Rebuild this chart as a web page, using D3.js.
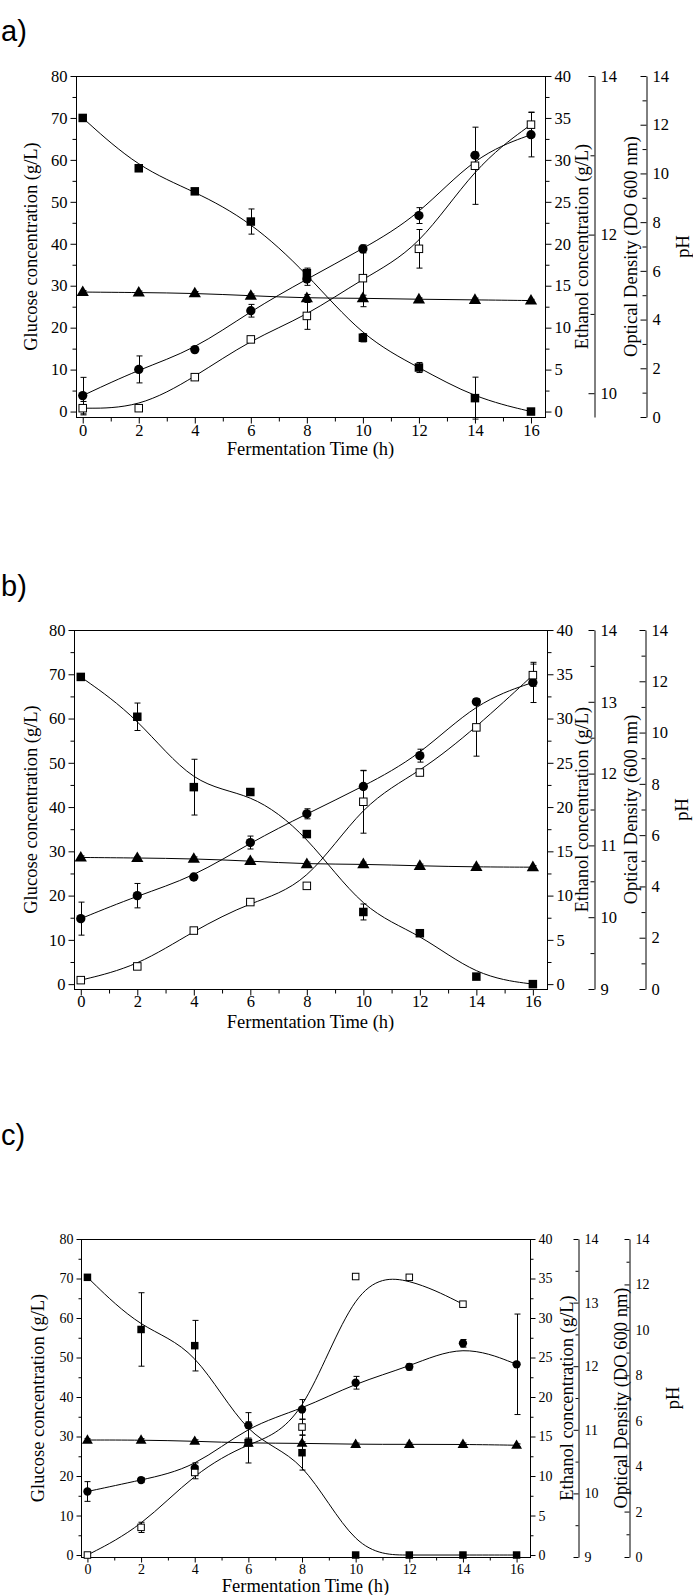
<!DOCTYPE html>
<html><head><meta charset="utf-8">
<script src="https://cdn.jsdelivr.net/npm/d3@7"></script>
<style>
body{margin:0;background:#fff;}
svg{display:block;}
text{font-family:"Liberation Serif","Times New Roman",serif;fill:#000;}
</style></head><body>
<svg id="chart" width="693" height="1595"></svg>
<script>
// ---------- shared ----------
const time = [0, 2, 4, 6, 8, 10, 12, 14, 16];
const xTicks = [0, 2, 4, 6, 8, 10, 12, 14, 16];
const glucoseTicks = [0, 10, 20, 30, 40, 50, 60, 70, 80];
const ethanolTicks = [0, 5, 10, 15, 20, 25, 30, 35, 40];
const phTicks = [0, 2, 4, 6, 8, 10, 12, 14];

// ---------- panel a ----------
const glucoseA = [70.0, 58.0, 52.5, 45.3, 33.0, 17.6, 10.5, 3.2, 0.0];
const glucoseErrA = [0, 0, 0, 3.0, 1.2, 1.0, 1.2, 5.0, 0];
const ethanolA = [0.4, 0.4, 4.1, 8.6, 11.4, 15.9, 19.4, 29.3, 34.2];
const ethanolErrA = [0.8, 0, 0, 0.3, 1.6, 3.4, 2.3, 4.6, 1.5];
const odA = [9.97, 10.30, 10.55, 11.04, 11.44, 11.82, 12.24, 13.00, 13.26];
const odErrA = [0.23, 0.17, 0, 0.08, 0.08, 0.05, 0.10, 0.04, 0.28];
const phA = [5.13, 5.11, 5.08, 4.98, 4.88, 4.88, 4.83, 4.81, 4.78];
const phErrA = [0.06, 0.06, 0.07, 0.07, 0.15, 0.12, 0.06, 0.07, 0.05];
const odTicksA = [10, 12, 14];

// ---------- panel b ----------
const glucoseB = [69.4, 60.4, 44.5, 43.4, 33.9, 16.3, 11.5, 1.7, 0.0];
const glucoseErrB = [0, 3.1, 6.3, 0, 0, 1.8, 0, 0, 0];
const ethanolB = [0.45, 2.0, 6.05, 9.27, 11.1, 20.6, 23.9, 29.0, 34.9];
const ethanolErrB = [0, 0.2, 0, 0, 0, 3.55, 0, 3.25, 1.25];
const odB = [9.98, 10.30, 10.56, 11.04, 11.44, 11.82, 12.25, 13.00, 13.27];
const odErrB = [0.23, 0.17, 0, 0.09, 0.07, 0.22, 0.09, 0.04, 0.28];
const phB = [5.13, 5.11, 5.08, 4.99, 4.87, 4.87, 4.80, 4.76, 4.75];
const phErrB = [0.06, 0.06, 0.07, 0.07, 0.08, 0.08, 0.07, 0.07, 0.06];
const odTicksB = [9, 10, 11, 12, 13, 14];

// ---------- panel c ----------
const glucoseC = [70.3, 57.1, 53.0, 28.5, 25.9, 0.0, 0.0, 0.0, 0.0];
const glucoseErrC = [0, 9.3, 6.4, 5.2, 4.4, 0, 0, 0, 0];
const ethanolC = [0.0, 3.5, 10.45, 14.2, 16.2, 35.25, 35.15, 31.75];
const ethanolErrC = [0, 0.65, 0.8, 0, 1.0, 0, 0, 0];
const odC = [10.03, 10.21, 10.40, 11.07, 11.32, 11.74, 11.99, 12.36, 12.03];
const odErrC = [0.155, 0.04, 0.08, 0.2, 0.155, 0.10, 0.05, 0.06, 0.79];
const phC = [5.15, 5.15, 5.10, 5.01, 5.01, 4.96, 4.96, 4.96, 4.92];
const phErrC = [0.06, 0.06, 0.06, 0.06, 0.06, 0.06, 0.06, 0.06, 0.06];
const odTicksC = [9, 10, 11, 12, 13, 14];

const svg = d3.select("#chart");

const panels = [
  {label: "a)", labelY: 41, top: 76, bottom: 417, left: 76, right: 545,
   gDom: [-1.3, 80], eDom: [-0.65, 40], odDom: [9.7, 14], odTicks: odTicksA, odMinorStep: 1,
   odX: 594, phX: 646, tickFont: 16.5, titleFont: 18.5, tickLen: 6, xPad: 1, xTitleY: 455,
   gTitleX: 31, eTitleX: 582, odTitleX: 631, phTitleX: 683, mk: 8.5,
   odTitle: "Optical Density (DO 600 nm)",
   glucose: glucoseA, glucoseErr: glucoseErrA, ethanol: ethanolA, ethanolErr: ethanolErrA,
   od: odA, odErr: odErrA, ph: phA, phErr: phErrA},
  {label: "b)", labelY: 596, top: 630, bottom: 989, left: 74, right: 547,
   gDom: [-1.1, 80], eDom: [-0.55, 40], odDom: [9, 14], odTicks: odTicksB, odMinorStep: 0.5,
   odX: 594, phX: 645, tickFont: 16.5, titleFont: 18.5, tickLen: 6, xPad: 0, xTitleY: 1028,
   gTitleX: 31, eTitleX: 582, odTitleX: 631, phTitleX: 682, mk: 8.5,
   odTitle: "Optical Density (600 nm)",
   glucose: glucoseB, glucoseErr: glucoseErrB, ethanol: ethanolB, ethanolErr: ethanolErrB,
   od: odB, odErr: odErrB, ph: phB, phErr: phErrB},
  {label: "c)", labelY: 1145, top: 1239, bottom: 1557, left: 81, right: 530,
   gDom: [-0.5, 80], eDom: [-0.25, 40], odDom: [9, 14], odTicks: odTicksC, odMinorStep: 0.5,
   odX: 578, phX: 629, tickFont: 14, titleFont: 18.5, tickLen: 5, xPad: 2, xTitleY: 1592,
   gTitleX: 38, eTitleX: 567, odTitleX: 621, phTitleX: 673, mk: 7.5,
   odTitle: "Optical Density (DO 600 nm)",
   glucose: glucoseC, glucoseErr: glucoseErrC, ethanol: ethanolC, ethanolErr: ethanolErrC,
   od: odC, odErr: odErrC, ph: phC, phErr: phErrC}
];

function styleAxis(a, fs) {
  a.attr("font-family", null).attr("font-size", fs);
  a.selectAll("line,path").attr("stroke", "#000").attr("stroke-width", 1);
  a.selectAll("text").attr("fill", "#000");
}
function range(a, b, s) { const r = []; for (let v = a; v <= b + 1e-9; v += s) r.push(+v.toFixed(3)); return r; }
const fmt = d3.format("d");

panels.forEach(p => {
  const g = svg.append("g");
  const x = d3.scaleLinear().domain([-0.24, 16.5]).range([p.left, p.right]);
  const yG = d3.scaleLinear().domain(p.gDom).range([p.bottom, p.top]);
  const yE = d3.scaleLinear().domain(p.eDom).range([p.bottom, p.top]);
  const yO = d3.scaleLinear().domain(p.odDom).range([p.bottom, p.top]);
  const yP = d3.scaleLinear().domain([0, 14]).range([p.bottom, p.top]);
  const T = p.tickLen, t = Math.max(3, Math.round(T * 0.6));

  // panel letter
  g.append("text").attr("x", 1).attr("y", p.labelY)
    .style("font-family", "'Liberation Sans',Arial,sans-serif").attr("font-size", 29).text(p.label);

  // frame
  g.append("rect").attr("x", p.left + 0.5).attr("y", p.top + 0.5)
    .attr("width", p.right - p.left).attr("height", p.bottom - p.top)
    .attr("fill", "none").attr("stroke", "#000").attr("stroke-width", 1);

  // bottom axis
  const xa = g.append("g").attr("transform", `translate(0,${p.bottom + 0.5})`)
    .call(d3.axisBottom(x).tickValues(xTicks).tickSize(T).tickPadding(p.xPad).tickSizeOuter(0).tickFormat(fmt));
  xa.select(".domain").remove(); styleAxis(xa, p.tickFont);
  const xm = g.append("g").attr("transform", `translate(0,${p.bottom + 0.5})`)
    .call(d3.axisBottom(x).tickValues(range(1, 15, 2)).tickSize(t).tickFormat(() => ""));
  xm.select(".domain").remove(); styleAxis(xm, p.tickFont);

  // left glucose axis
  const ga = g.append("g").attr("transform", `translate(${p.left + 0.5},0)`)
    .call(d3.axisLeft(yG).tickValues(glucoseTicks).tickSize(T).tickPadding(3).tickSizeOuter(0).tickFormat(fmt));
  ga.select(".domain").remove(); styleAxis(ga, p.tickFont);
  const gm = g.append("g").attr("transform", `translate(${p.left + 0.5},0)`)
    .call(d3.axisLeft(yG).tickValues(range(5, 75, 10)).tickSize(t).tickFormat(() => ""));
  gm.select(".domain").remove(); styleAxis(gm, p.tickFont);

  // right ethanol axis
  const ea = g.append("g").attr("transform", `translate(${p.right + 0.5},0)`)
    .call(d3.axisRight(yE).tickValues(ethanolTicks).tickSize(T).tickPadding(3).tickSizeOuter(0).tickFormat(fmt));
  ea.select(".domain").remove(); styleAxis(ea, p.tickFont);
  const em = g.append("g").attr("transform", `translate(${p.right + 0.5},0)`)
    .call(d3.axisRight(yE).tickValues(range(2.5, 37.5, 5)).tickSize(t).tickFormat(() => ""));
  em.select(".domain").remove(); styleAxis(em, p.tickFont);

  // OD axis (ticks to the left, labels to the right)
  const oa = g.append("g").attr("transform", `translate(${p.odX + 0.5},0)`)
    .call(d3.axisRight(yO).tickValues(p.odTicks).tickSizeInner(-T).tickSizeOuter(0).tickPadding(6).tickFormat(fmt));
  styleAxis(oa, p.tickFont);
  const odMinor = range(Math.ceil(p.odDom[0] / p.odMinorStep) * p.odMinorStep, 14, p.odMinorStep)
    .filter(v => !p.odTicks.includes(v));
  const om = g.append("g").attr("transform", `translate(${p.odX + 0.5},0)`)
    .call(d3.axisRight(yO).tickValues(odMinor).tickSizeInner(-t).tickSizeOuter(0).tickFormat(() => ""));
  om.select(".domain").remove(); styleAxis(om, p.tickFont);

  // pH axis
  const pa = g.append("g").attr("transform", `translate(${p.phX + 0.5},0)`)
    .call(d3.axisRight(yP).tickValues(phTicks).tickSizeInner(-T).tickSizeOuter(0).tickPadding(6).tickFormat(fmt));
  styleAxis(pa, p.tickFont);
  const pm = g.append("g").attr("transform", `translate(${p.phX + 0.5},0)`)
    .call(d3.axisRight(yP).tickValues(range(1, 13, 2)).tickSizeInner(-t).tickSizeOuter(0).tickFormat(() => ""));
  pm.select(".domain").remove(); styleAxis(pm, p.tickFont);

  // titles
  const midY = (p.top + p.bottom) / 2;
  g.append("text").attr("x", (p.left + p.right) / 2).attr("y", p.xTitleY)
    .attr("text-anchor", "middle").attr("font-size", p.titleFont).text("Fermentation Time (h)");
  const vt = (xx, s) => g.append("text").attr("transform", `translate(${xx},${midY}) rotate(-90)`)
    .attr("text-anchor", "middle").attr("dy", "0.35em").attr("font-size", p.titleFont).text(s);
  vt(p.gTitleX, "Glucose concentration (g/L)");
  vt(p.eTitleX, "Ethanol concentration (g/L)");
  vt(p.odTitleX, p.odTitle);
  vt(p.phTitleX, "pH");

  // curves (B-spline through the measured points)
  const curve = (vals, ys) => g.append("path")
    .attr("d", d3.line().x((d, i) => x(time[i])).y(d => ys(d)).curve(d3.curveBasis)(vals))
    .attr("fill", "none").attr("stroke", "#000").attr("stroke-width", 1);
  curve(p.ph, yP); curve(p.od, yO); curve(p.ethanol, yE); curve(p.glucose, yG);

  // error bars
  const errs = (vals, err, ys) => vals.forEach((v, i) => {
    if (!err[i]) return;
    const xx = Math.round(x(time[i])) + 0.5, y1 = ys(v - err[i]), y2 = ys(v + err[i]);
    const c = 3;
    g.append("path").attr("d", `M${xx},${y1}V${y2}M${xx - c},${y1}H${xx + c}M${xx - c},${y2}H${xx + c}`)
      .attr("fill", "none").attr("stroke", "#000").attr("stroke-width", 1);
  });
  errs(p.ph, p.phErr, yP); errs(p.od, p.odErr, yO); errs(p.ethanol, p.ethanolErr, yE); errs(p.glucose, p.glucoseErr, yG);

  // markers
  const m = p.mk;
  p.ph.forEach((v, i) => g.append("path")
    .attr("d", d3.symbol().type(d3.symbolTriangle).size(m * m * 0.9)())
    .attr("transform", `translate(${x(time[i])},${yP(v) + 0.5})`).attr("fill", "#000"));
  p.od.forEach((v, i) => g.append("circle").attr("cx", x(time[i])).attr("cy", yO(v))
    .attr("r", m / 2 + 0.4).attr("fill", "#000"));
  p.ethanol.forEach((v, i) => g.append("rect").attr("x", x(time[i]) - m / 2 + 0.5).attr("y", yE(v) - m / 2 + 0.5)
    .attr("width", m - 1).attr("height", m - 1).attr("fill", "#fff").attr("stroke", "#000").attr("stroke-width", 1));
  p.glucose.forEach((v, i) => g.append("rect").attr("x", x(time[i]) - m / 2).attr("y", yG(v) - m / 2)
    .attr("width", m).attr("height", m).attr("fill", "#000"));
});
</script>
</body></html>
